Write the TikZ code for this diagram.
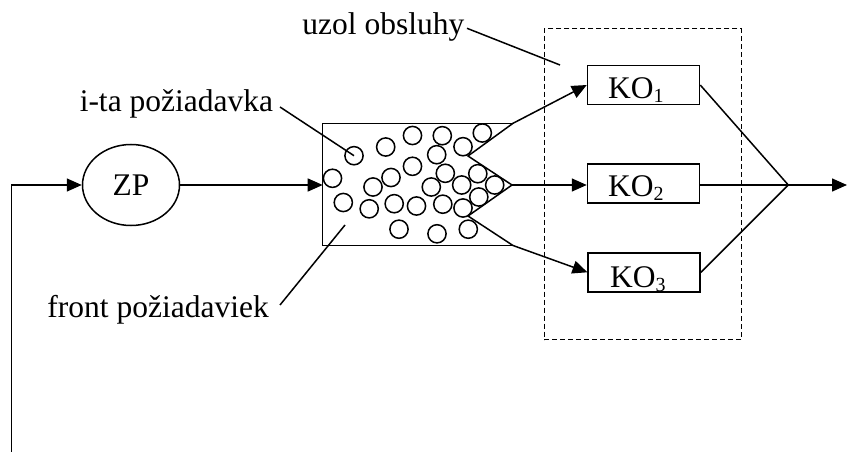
\documentclass[tikz,border=0pt]{standalone}
\usepackage{fontspec}
\setmainfont{Liberation Serif}
\usetikzlibrary{arrows.meta,shapes.geometric}
\newcommand\kosub[1]{\raisebox{-4pt}{\fontsize{20}{20}\selectfont #1}}
\begin{document}
\begin{tikzpicture}[x=1pt,y=-1pt,
  line width=1.5pt,
  lbl/.style={font=\fontsize{31.5}{36}\selectfont, inner sep=0pt, anchor=base west},
  ar/.style={-{Triangle[length=15pt,width=13pt]}},
  kobox/.style={draw, rectangle, minimum width=112pt, minimum height=39pt, inner sep=0pt},
  bub/.style={draw, circle, minimum size=18.2pt, inner sep=0pt},
  zpnode/.style={draw, ellipse, minimum width=97pt, minimum height=81pt, inner sep=0pt, font=\fontsize{31.5}{36}\selectfont},
  dashbox/.style={draw, rectangle, dash pattern=on 5pt off 3pt, line width=1.2pt, minimum width=197pt, minimum height=311pt, inner sep=0pt}
]
\useasboundingbox (0,0) rectangle (847,452);

% service node (dashed)
\node[dashbox] (uzol) at (642.8,184.2) {};

% source
\node[zpnode] (zp) at (131,185) {ZP};

% queue box
\coordinate (qtl) at (322.7,123.3);
\coordinate (qbl) at (322.7,245.5);
\coordinate (qtop) at (513,123.3);
\coordinate (qbot) at (513,245.5);
\coordinate (qin) at (322.7,185);
\coordinate (qmid) at (512,185);
\coordinate (qup) at (468,156);
\coordinate (qlo) at (468,216);
\draw (qtop) -- (qtl) -- (qbl) -- (qbot);
\draw (qtop) -- (qup) -- (qmid) -- (qlo) -- (qbot);

% requests
\foreach \p [count=\i] in {{354,155.7},{385.7,147},{412.5,135.5},{442.3,135.7},{482.3,133},
  {463,146.7},{436.7,154.7},{332.5,178.3},{412.5,166.3},{391,177.5},{373,187},{445.3,173.3},
  {477.8,173.7},{431.3,187},{461.7,185},{494.7,185},{343.3,202.5},{369.2,208.8},{394.2,203.7},
  {416.5,206},{442.8,204.2},{463,208},{478.8,197},{399,229.2},{437,233.8},{468.3,229.2}}
  \node[bub] (c\i) at (\p) {};

% service channels
\node[kobox] (ko1) at (643.5,85) {};
\node[kobox] (ko2) at (643.5,183.3) {};
\node[kobox] (ko3) at (644.2,272.3) {};
\node[lbl] (t1) at (607.3,98.3) {KO\kosub{1}};
\node[lbl] (t2) at (607.3,196) {KO\kosub{2}};
\node[lbl] (t3) at (609.3,287.3) {KO\kosub{3}};

% merge and output
\coordinate (mrg) at (788.3,185);
\coordinate (out) at (847,185);
\coordinate (fb) at (11.7,452);

% connectors
\draw[ar] (fb) |- (zp.west);
\draw[ar] (zp.east) -- (qin);
\draw[ar] (qtop) -- (ko1.west);
\draw[ar] (qmid) -- (ko2.west |- qmid);
\draw[ar] (qbot) -- (ko3.west);
\draw (ko1.east) -- (mrg);
\draw (ko2.east |- mrg) -- (mrg);
\draw (ko3.east) -- (mrg);
\draw[ar] (mrg) -- (out);

% labels
\node[lbl] (luzol) at (301.7,35) {uzol obsluhy};
\node[lbl] (lita) at (79,111.7) {i-ta požiadavka};
\node[lbl] (lfront) at (46.7,317) {front požiadaviek};
\coordinate (luzolend) at (467,28.3);
\coordinate (uzolpt) at (560,65);
\coordinate (litaend) at (280,107);
\coordinate (lfrontend) at (280,305);
\coordinate (frontpt) at (345,225);
\draw (luzolend) -- (uzolpt);
\draw (litaend) -- (c1.center);
\draw (lfrontend) -- (frontpt);
\end{tikzpicture}
\end{document}
